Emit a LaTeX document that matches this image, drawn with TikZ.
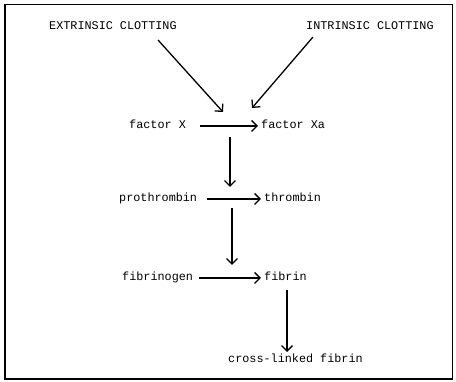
\documentclass[tikz,border=0pt]{standalone}
\usepackage{fontspec}
\setmonofont{Liberation Mono}
\usetikzlibrary{arrows.meta,positioning}
\tikzset{
  lbl/.style={font=\ttfamily\fontsize{11.8}{13}\selectfont,anchor=west,
              inner sep=0pt,text height=7pt,text depth=2pt},
  flow/.style={-{Straight Barb[length=5.5pt,width=11pt]},line width=1.3pt},
}

\begin{document}
\begin{tikzpicture}[x=1pt,y=-1pt]
      \useasboundingbox (0,0) rectangle (456,382);
      \draw[line width=1.2pt] (5,4.5) rectangle (452.5,379);
      % sources
      \node[lbl] (ext) at (49,27) {EXTRINSIC CLOTTING};
      \node[lbl] (int) at (306,27) {INTRINSIC CLOTTING};
      % cascade
      \node[lbl] (fX) at (129,126) {factor X};
      \node[lbl] (fXa) at (261,126) {factor Xa};
      \node[lbl] (pro) at (119,199) {prothrombin};
      \node[lbl] (thr) at (264,199) {thrombin};
      \node[lbl] (fgn) at (122,278) {fibrinogen};
      \node[lbl] (fib) at (264,278) {fibrin};
      \node[lbl] (xfib) at (228,360) {cross-linked fibrin};
      % free ends
      \coordinate (extA) at (158,40);  \coordinate (extB) at (223,112);
      \coordinate (intA) at (313,37);  \coordinate (intB) at (252,108);
      \coordinate (v1a) at (230,137);  \coordinate (v1b) at (230,187);
      \coordinate (v2a) at (232,208);  \coordinate (v2b) at (232,265);
      \coordinate (v3a) at (287,290);  \coordinate (v3b) at (287,352);
      \draw[flow] (extA) -- (extB);
      \draw[flow] (intA) -- (intB);
      \draw[flow,shorten <=14pt,shorten >=3pt] (fX) -- (fXa);
      \draw[flow,shorten <=10pt,shorten >=3pt] (pro) -- (thr);
      \draw[flow,shorten <=6pt,shorten >=3pt] (fgn) -- (fib);
      \draw[flow] (v1a) -- (v1b);
      \draw[flow] (v2a) -- (v2b);
      \draw[flow] (v3a) -- (v3b);
    \end{tikzpicture}
\end{document}
